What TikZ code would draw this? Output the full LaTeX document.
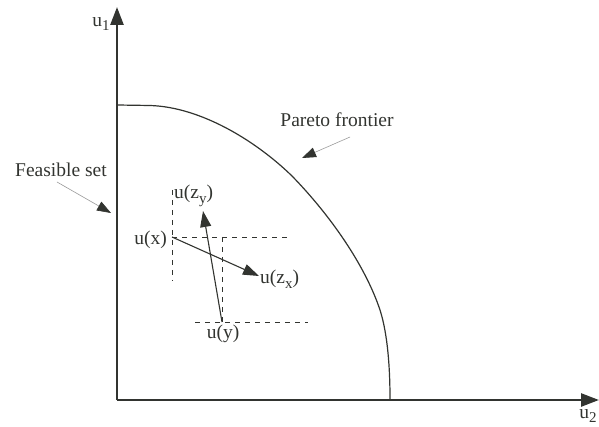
\documentclass[tikz,border=0pt]{standalone}
\usepackage{fontspec}
\setmainfont{Liberation Serif}
\usetikzlibrary{arrows.meta}
\definecolor{ink}{RGB}{50,52,48}
\newcommand\lowsub[1]{\raisebox{-0.55ex}{\fontsize{15}{15}\selectfont #1}}
\begin{document}
\begin{tikzpicture}[x=1pt,y=-1pt,
  lbl/.style={inner sep=0pt,font=\fontsize{19.5}{22}\selectfont,text=ink},
  axis/.style={draw=ink,line width=2.6pt,-{Triangle[length=18pt,width=13pt]}},
  vec/.style={draw=ink,line width=1.1pt,-{Triangle[length=16pt,width=11pt]}},
  pointer/.style={draw=black!40,line width=0.6pt,-{Triangle[length=14pt,width=10pt,color=ink]}},
  guide/.style={draw=ink,line width=0.9pt,dash pattern=on 5pt off 5pt}]
\useasboundingbox (0,0) rectangle (599,427);
% axes
\coordinate (O) at (117,400);
\coordinate (ytip) at (117,7);
\coordinate (xtip) at (599,400);
\draw[axis] (O) -- (ytip);
\draw[axis] (O) -- (xtip);
\node[lbl] (u1) at (101,24) {u\lowsub{1}};
\node[lbl] (u2) at (588,416) {u\lowsub{2}};
% Pareto frontier
\draw[ink,line width=1.2pt] (117,105) -- (150,105.5)
  .. controls (200,107) and (255,140) .. (292,176)
  .. controls (330,215) and (365,265) .. (380,310)
  .. controls (388,335) and (390,370) .. (390,399);
% labels with pointers
\node[lbl] (pf) at (337,120) {Pareto frontier};
\coordinate (pfs) at (350,137);
\coordinate (pfe) at (302,158);
\draw[pointer] (pfs) -- (pfe);
\node[lbl] (fs) at (61,170) {Feasible set};
\coordinate (fss) at (57,182);
\coordinate (fse) at (111,213);
\draw[pointer] (fss) -- (fse);
% points
\coordinate (ux) at (172,237);
\coordinate (uy) at (222,322);
\coordinate (uzx) at (259,276);
\coordinate (uzy) at (203,211);
% dashed guides
\coordinate (g1a) at (172,190);
\coordinate (g1b) at (172,281);
\coordinate (g2b) at (288,237);
\coordinate (g3a) at (222,237);
\coordinate (g4a) at (195,322);
\coordinate (g4b) at (308,322);
\draw[guide] (g1a) -- (g1b);
\draw[guide] (ux) -- (g2b);
\draw[guide] (g3a) -- (uy);
\draw[guide] (g4a) -- (g4b);
% vectors
\draw[vec] (ux) -- (uzx);
\draw[vec] (uy) -- (uzy);
% point labels
\node[lbl,anchor=east] (lux) at (167,240) {u(x)};
\node[lbl,anchor=west] (luzx) at (260,279) {u(z\lowsub{x})};
\node[lbl,anchor=west] (luzy) at (174,196) {u(z\lowsub{y})};
\node[lbl] (luy) at (223,334) {u(y)};
\end{tikzpicture}
\end{document}
